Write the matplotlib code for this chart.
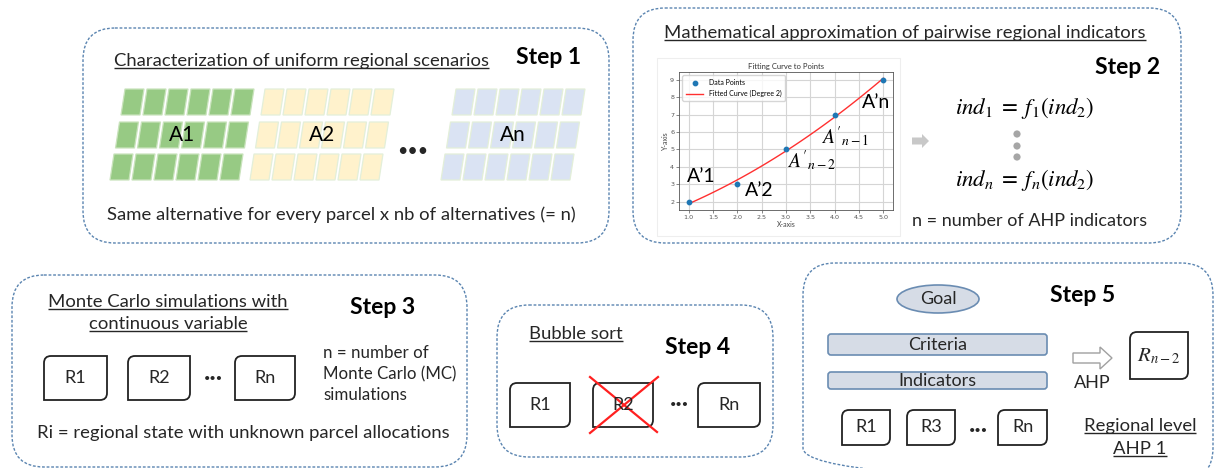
import numpy as np
import matplotlib
matplotlib.use("Agg")
import matplotlib.pyplot as plt
from matplotlib.patches import FancyBboxPatch, Polygon, PathPatch, Ellipse, Circle, FancyArrow, Rectangle
from matplotlib.path import Path
from matplotlib.ticker import FormatStrFormatter

plt.rcParams["font.family"] = ["Lato", "DejaVu Sans"]
plt.rcParams["mathtext.fontset"] = "stix"

# --- data -------------------------------------------------------------
fit_x = [1.0, 2.0, 3.0, 4.0, 5.0]
fit_y = [2.0, 3.0, 5.0, 7.0, 9.0]
point_labels = ["A’1", "A’2", r"$A'_{n-2}$", r"$A'_{n-1}$", "A’n"]

alt_labels = ["A1", "A2", "An"]
mc_labels = ["R1", "R2", "Rn"]
sort_labels = ["R1", "R2", "Rn"]
ahp_labels = ["R1", "R3", "Rn"]
hierarchy = ["Criteria", "Indicators"]

# --- layout / style ---------------------------------------------------
W, H = 1216, 468
TXT = "#262626"
FS = 13.3
BOX_EDGE = "#5a84b0"
parcel_colors = [("#97ca84", "#c9e3bc"), ("#fff2cc", "#e3efd9"), ("#dae3f3", "#e3efd9")]
group_x = [121, 261, 452]          # bottom-left x of first parcel, top row
label_xy_chart = [(1.26, 3.42), (2.46, 2.65), (3.53, 4.37), (4.22, 5.71), (4.86, 7.72)]

fig = plt.figure(figsize=(W / 100, H / 100), dpi=100)
ax = fig.add_axes([0, 0, 1, 1])
ax.set_xlim(0, W)
ax.set_ylim(H, 0)
ax.axis("off")
renderer = fig.canvas.get_renderer()


def dashed_box(x0, y0, x1, y1, r=32):
    ax.add_patch(FancyBboxPatch((x0, y0), x1 - x0, y1 - y0,
                                boxstyle=f"round,pad=0,rounding_size={r}",
                                fc="none", ec=BOX_EDGE, lw=1.0, ls=(0, (2.0, 1.3))))


def r_box(x0, y0, x1, y1, label, r=7, fs=13):
    # rectangle with rounded top-left and bottom-right corners
    verts = [(x0, y0 + r), (x0, y0), (x0 + r, y0), (x1, y0), (x1, y1 - r),
             (x1, y1), (x1 - r, y1), (x0, y1), (x0, y0 + r)]
    codes = [Path.MOVETO, Path.CURVE3, Path.CURVE3, Path.LINETO, Path.LINETO,
             Path.CURVE3, Path.CURVE3, Path.LINETO, Path.CLOSEPOLY]
    ax.add_patch(PathPatch(Path(verts, codes), fc="white", ec="#222222", lw=1.3))
    ax.text((x0 + x1) / 2, (y0 + y1) / 2, label, ha="center", va="center",
            fontsize=fs, color=TXT)


def underlined(x, y, s, fs=FS):
    t = ax.text(x, y, s, ha="center", va="center", fontsize=fs, color=TXT)
    bb = t.get_window_extent(renderer)
    (xa, ya), (xb, yb) = ax.transData.inverted().transform([[bb.x0, bb.y0], [bb.x1, bb.y1]])
    yl = max(ya, yb) - 1
    ax.plot([xa, xb], [yl, yl], color=TXT, lw=1.0, solid_capstyle="butt")


def step(x, y, n):
    ax.text(x, y, f"Step {n}", ha="center", va="center", fontsize=16.5,
            fontweight="bold", color="black")


def dots(x, y, fs=8):
    ax.text(x, y, "•••", ha="center", va="center", fontsize=fs, color=TXT)


# --- Step 1 -----------------------------------------------------------
dashed_box(83, 28, 609, 243)
underlined(301, 61, "Characterization of uniform regional scenarios")
step(549, 58, 1)
pw, ph, sl, pitch = 19, 26, 4, 22
row_top = [89, 122, 154]
for gx, (fc, ec), lab in zip(group_x, parcel_colors, alt_labels):
    for ri, yt in enumerate(row_top):
        xs = gx - 5.5 * ri
        for ci in range(6):
            xb = xs + ci * pitch
            ax.add_patch(Polygon([(xb, yt + ph), (xb + pw, yt + ph),
                                  (xb + pw + sl, yt), (xb + sl, yt)],
                                 closed=True, fc=fc, ec=ec, lw=0.9))
    ax.text(gx + 61, 135, lab, ha="center", va="center", fontsize=15, color="black")
dots(413, 151, fs=13)
ax.text(341, 215, "Same alternative for every parcel x nb of alternatives (= n)",
        ha="center", va="center", fontsize=FS, color=TXT)

# --- Step 2 -----------------------------------------------------------
dashed_box(633, 8, 1181, 243)
underlined(905, 33, "Mathematical approximation of pairwise regional indicators")
step(1128, 67, 2)
ax.add_patch(Rectangle((657, 58), 243, 178, fc="none", ec="#eeeeee", lw=0.8))

ax2 = fig.add_axes([679 / W, 1 - 210 / H, (893 - 679) / W, (210 - 72) / H])
ax2.scatter(fit_x, fit_y, s=10, color="#1f77b4", label="Data Points", zorder=3)
coef = np.polyfit(fit_x, fit_y, 2)
xs = np.linspace(min(fit_x), max(fit_x), 100)
ax2.plot(xs, np.polyval(coef, xs), color="#ff3030", lw=1.0, label="Fitted Curve (Degree 2)")
ax2.set_xticks(np.arange(1.0, 5.01, 0.5))
ax2.xaxis.set_major_formatter(FormatStrFormatter("%.1f"))
ax2.set_yticks(range(2, 10))
ax2.grid(True, color="#d5d5d5", lw=0.8)
ax2.tick_params(labelsize=4.6, colors="#555555", length=2, width=0.5, pad=1.5)
for lbl in ax2.get_xticklabels() + ax2.get_yticklabels():
    lbl.set_family("DejaVu Sans")
for sp in ax2.spines.values():
    sp.set_color("#555555")
    sp.set_linewidth(0.6)
ax2.set_title("Fitting Curve to Points", fontsize=5.5, pad=2, color="#333333")
ax2.set_xlabel("X-axis", fontsize=5, labelpad=1, color="#444444")
ax2.set_ylabel("Y-axis", fontsize=5, labelpad=1, color="#444444")
ax2.legend(loc="upper left", fontsize=5, frameon=True, borderpad=0.5,
           handlelength=2.5, labelspacing=0.6, edgecolor="#cccccc", fancybox=True)
for lab, (lx, ly) in zip(point_labels, label_xy_chart):
    ax2.text(lx, ly, lab, ha="center", va="center", fontsize=14, color="black")

ax.add_patch(FancyArrow(912, 141, 17, 0, width=7, head_width=14, head_length=7,
                        length_includes_head=True, fc="#c8c8c8", ec="none"))
ax.text(1025, 108, r"$ind_1\;=\;f_1(ind_2)$", ha="center", va="center", fontsize=16.5, color="black")
for yy in (134, 146, 157):
    ax.add_patch(Circle((1017, yy), 3.6, fc="#a6a6a6", ec="none"))
ax.text(1025, 180, r"$ind_n\;=\;f_n(ind_2)$", ha="center", va="center", fontsize=16.5, color="black")
ax.text(1030, 221, "n = number of AHP indicators", ha="center", va="center", fontsize=13, color=TXT)

# --- Step 3 -----------------------------------------------------------
dashed_box(12, 275, 467, 467)
underlined(168, 302, "Monte Carlo simulations with")
underlined(168, 324, "continuous variable")
step(383, 308, 3)
for (x0, x1), lab in zip([(44, 107), (128, 190), (235, 295)], mc_labels):
    r_box(x0, 356, x1, 400, lab)
dots(213, 378)
for yy, line in zip((353, 374, 395), ["n = number of", "Monte Carlo (MC)", "simulations"]):
    ax.text(323, yy, line, ha="left", va="center", fontsize=12.2, color=TXT)
ax.text(243, 433, "Ri = regional state with unknown parcel allocations",
        ha="center", va="center", fontsize=FS, color=TXT)

# --- Step 4 -----------------------------------------------------------
dashed_box(497, 305, 773, 457)
underlined(576, 334, "Bubble sort")
step(698, 347, 4)
for (x0, x1), lab in zip([(510, 570), (593, 653), (698, 760)], sort_labels):
    r_box(x0, 383, x1, 427, lab)
dots(679, 405)
ax.plot([590, 657], [377, 432], color="#ff2020", lw=1.6)
ax.plot([658, 590], [377, 433], color="#ff2020", lw=1.6)

# --- Step 5 -----------------------------------------------------------
dashed_box(803, 263, 1213, 480)
ax.add_patch(Ellipse((938, 299), 82, 28, fc="#d6dce6", ec="#6a8cb2", lw=1.2))
ax.text(938, 299, "Goal", ha="center", va="center", fontsize=13, color=TXT)
step(1083, 296, 5)
for (y0, y1), lab in zip([(334, 355), (372, 389)], hierarchy):
    ax.add_patch(FancyBboxPatch((828, y0), 1047 - 828, y1 - y0,
                                boxstyle="round,pad=0,rounding_size=3",
                                fc="#d6dce6", ec="#6a8cb2", lw=1.2))
    ax.text(937.5, (y0 + y1) / 2, lab, ha="center", va="center", fontsize=13, color=TXT)
ax.add_patch(FancyArrow(1073, 358, 39, 0, width=10, head_width=22, head_length=12,
                        length_includes_head=True, fc="white", ec="#a0a0a0", lw=1.0))
ax.text(1092, 383, "AHP", ha="center", va="center", fontsize=13, color=TXT)
r_box(1130, 332, 1188, 379, r"$R_{n-2}$", fs=15)
for (x0, x1), lab in zip([(842, 890), (907, 955), (998, 1047)], ahp_labels):
    r_box(x0, 410, x1, 445, lab)
dots(978, 430)
underlined(1140, 426, "Regional level")
underlined(1140, 449, "AHP 1")

fig.savefig("out.png", dpi=100)
